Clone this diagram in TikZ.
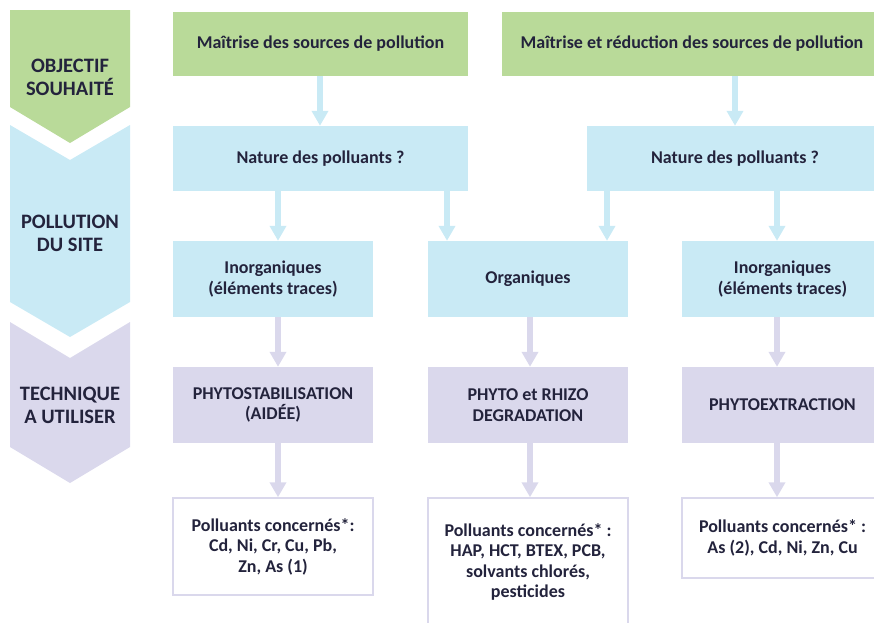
\documentclass[tikz,border=0pt]{standalone}
\usepackage{fontspec}
\setmainfont{Carlito}
\usetikzlibrary{arrows.meta}
\definecolor{cgreen}{RGB}{185,218,153}
\definecolor{cblue}{RGB}{201,234,245}
\definecolor{cpurple}{RGB}{218,216,236}
\definecolor{ctext}{RGB}{35,35,60}
\begin{document}
\begin{tikzpicture}[x=1pt,y=-1pt,
  box/.style={rectangle, inner sep=0pt, align=center, text=ctext,
    font=\bfseries\fontsize{18}{20.5}\selectfont},
  gbox/.style={box, fill=cgreen},
  bbox/.style={box, fill=cblue},
  pbox/.style={box, fill=cpurple},
  wbox/.style={box, fill=white, draw=cpurple, line width=1.5pt},
  barr/.style={draw=cblue, line width=5.5pt, -{Triangle[width=16pt,length=15pt]}},
  parr/.style={draw=cpurple, line width=5.5pt, -{Triangle[width=16pt,length=15pt]}},
  chevtext/.style={align=center, text=ctext, inner sep=0pt,
    font=\bfseries\fontsize{20.5}{23}\selectfont}
]
\useasboundingbox (0,0) rectangle (874,622);
% chevrons
\fill[cgreen] (10,10) -- (130,10) -- (130,107) -- (70,143) -- (10,107) -- cycle;
\fill[cblue] (10,125) -- (70,160) -- (130,125) -- (130,302) -- (70,337) -- (10,302) -- cycle;
\fill[cpurple] (10,322) -- (70,358) -- (130,322) -- (130,447) -- (70,483) -- (10,447) -- cycle;
\node[chevtext] (t1) at (70,77.5) {OBJECTIF\\SOUHAITÉ};
\node[chevtext] (t2) at (70,233.5) {POLLUTION\\DU SITE};
\node[chevtext] (t3) at (70,405) {TECHNIQUE\\A UTILISER};
% row 1
\node[gbox, minimum width=295pt, minimum height=64pt] (g1) at (320.5,44) {Maîtrise des sources de pollution};
\node[gbox, minimum width=380pt, minimum height=64pt] (g2) at (692,44) {Maîtrise et réduction des sources de pollution};
% row 2
\node[bbox, minimum width=295pt, minimum height=65pt] (b1) at (320.5,158.5) {Nature des polluants ?};
\node[bbox, minimum width=296pt, minimum height=65pt] (b2) at (735,158.5) {Nature des polluants ?};
% row 3
\node[bbox, minimum width=200pt, minimum height=76pt] (iL) at (273,279) {Inorganiques\\(éléments traces)};
\node[bbox, minimum width=200pt, minimum height=76pt] (org) at (528,279) {Organiques};
\node[bbox, minimum width=201pt, minimum height=76pt] (iR) at (782.5,279) {Inorganiques\\(éléments traces)};
% row 4
\node[pbox, minimum width=200pt, minimum height=76pt] (pL) at (273,405) {PHYTOSTABILISATION\\(AIDÉE)};
\node[pbox, minimum width=200pt, minimum height=76pt] (pM) at (528,405) {PHYTO et RHIZO\\DEGRADATION};
\node[pbox, minimum width=201pt, minimum height=76pt] (pR) at (782.5,405) {PHYTOEXTRACTION};
% row 5
\node[wbox, minimum width=200pt, minimum height=97pt] (wL) at (273,546.5) {Polluants concernés*:\\Cd, Ni, Cr, Cu, Pb,\\Zn, As (1)};
\node[wbox, minimum width=200pt, minimum height=128pt] (wM) at (528,562) {Polluants concernés* :\\HAP, HCT, BTEX, PCB,\\solvants chlorés,\\pesticides};
\node[wbox, minimum width=201pt, minimum height=80pt] (wR) at (782.5,538) {Polluants concernés* :\\As (2), Cd, Ni, Zn, Cu};
% column coordinates
\coordinate (xa) at (320,0);
\coordinate (xb) at (735,0);
\coordinate (xc) at (278,0);
\coordinate (xd) at (447,0);
\coordinate (xe) at (607,0);
\coordinate (xf) at (777,0);
\coordinate (xg) at (530,0);
% arrows
\draw[barr] (g1.south -| xa) -- (b1.north -| xa);
\draw[barr] (g2.south -| xb) -- (b2.north -| xb);
\draw[barr] (b1.south -| xc) -- (iL.north -| xc);
\draw[barr] (b1.south -| xd) -- (org.north -| xd);
\draw[barr] (b2.south -| xe) -- (org.north -| xe);
\draw[barr] (b2.south -| xf) -- (iR.north -| xf);
\draw[parr] (iL.south -| xc) -- (pL.north -| xc);
\draw[parr] (org.south -| xg) -- (pM.north -| xg);
\draw[parr] (iR.south -| xf) -- (pR.north -| xf);
\draw[parr] (pL.south -| xc) -- (wL.north -| xc);
\draw[parr] (pM.south -| xg) -- (wM.north -| xg);
\draw[parr] (pR.south -| xf) -- (wR.north -| xf);
\end{tikzpicture}
\end{document}
